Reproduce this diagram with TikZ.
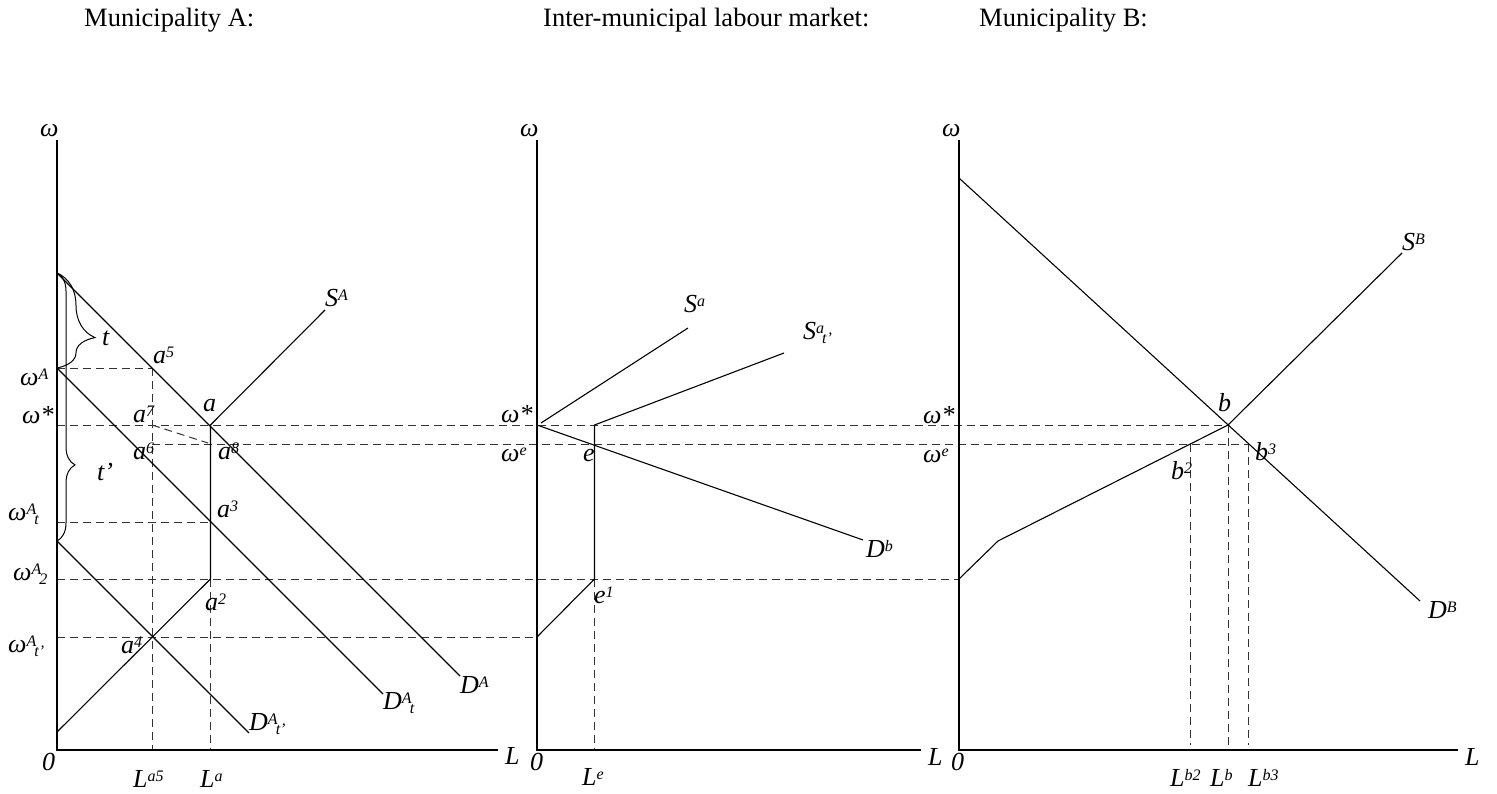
\documentclass[tikz,border=0pt]{standalone}
\usepackage{fontspec}
\setmainfont{Liberation Serif}
\usetikzlibrary{decorations.pathreplacing}
\newcommand\SP[1]{\raisebox{6pt}{\fontsize{16}{18}\selectfont #1}}
\newcommand\SB[1]{\raisebox{-4pt}{\fontsize{16}{18}\selectfont #1}}
\begin{document}
\begin{tikzpicture}[x=1pt,y=-1pt,
  axisline/.style={line width=1.8pt},
  crv/.style={line width=1.1pt},
  dsh/.style={line width=1pt, dash pattern=on 8pt off 5pt, black!80},
  lab/.style={inner sep=0pt, anchor=base west, font=\fontsize{26}{30}\selectfont\itshape},
  ttl/.style={inner sep=0pt, anchor=base west, font=\fontsize{26.5}{30}\selectfont},
  brc/.style={line width=1pt, decorate}]
\useasboundingbox (0,0) rectangle (1497,794);
% ---------- coordinates: panel A
\coordinate (Atop) at (57,140);
\coordinate (Ao) at (57,750);
\coordinate (Aend) at (498,750);
\coordinate (DA0) at (57,273);
\coordinate (DA1) at (460,676);
\coordinate (wA) at (57,368);
\coordinate (DAt1) at (383,694);
\coordinate (DAtp0) at (57,541);
\coordinate (DAtp1) at (249,733);
\coordinate (SA0) at (57,732);
\coordinate (a2) at (210.5,579);
\coordinate (a) at (210.5,425);
\coordinate (SA1) at (325,310);
\coordinate (a5) at (152,368);
\coordinate (a7) at (152,425);
\coordinate (a6) at (152,444);
\coordinate (a3) at (210.5,522);
\coordinate (a4) at (152,637);
\coordinate (a8q) at (208,443);
\coordinate (wAt) at (57,522);
\coordinate (wA2) at (57,579);
\coordinate (wAtp) at (57,637);
\coordinate (ws) at (57,425);
\coordinate (La5) at (152,750);
\coordinate (La) at (210.5,750);
% ---------- middle panel
\coordinate (Mtop) at (537,140);
\coordinate (Mo) at (537,750);
\coordinate (Mend) at (921,750);
\coordinate (Ms) at (537,425);
\coordinate (Sa0) at (541,423);
\coordinate (Sa1) at (688,328);
\coordinate (Mtp) at (537,637);
\coordinate (e1) at (594.5,579);
\coordinate (et) at (594.5,425);
\coordinate (Sat1) at (784,353);
\coordinate (Db1) at (863,540);
\coordinate (Le) at (594.5,750);
% ---------- panel B
\coordinate (Btop) at (959,140);
\coordinate (Bo) at (959,750);
\coordinate (Bend) at (1458,750);
\coordinate (DB0) at (959,178);
\coordinate (DB1) at (1420,601);
\coordinate (SB0) at (959,579);
\coordinate (SBk) at (998,541);
\coordinate (b) at (1228,425);
\coordinate (SB1) at (1402,253);
\coordinate (b2) at (1190,444);
\coordinate (b3) at (1248,444);
\coordinate (Lb2) at (1190,745);
\coordinate (Lb) at (1228,750);
\coordinate (Lb3) at (1248,745);
% ---------- dashed guides
\draw[dsh] (wA) -- (a5);
\draw[dsh] (ws) -- (b);
\draw[dsh] (a6) -- (b3);
\draw[dsh] (wAt) -- (a3);
\draw[dsh] (wA2) -- (SB0);
\draw[dsh] (wAtp) -- (Mtp);
\draw[dsh] (a5) -- (La5);
\draw[dsh] (a2) -- (La);
\draw[dsh] (a7) -- (a8q);
\draw[dsh] (e1) -- (Le);
\draw[dsh] (b2) -- (Lb2);
\draw[dsh] (b) -- (Lb);
\draw[dsh] (b3) -- (Lb3);
% ---------- axes
\draw[axisline] (Atop) -- (Ao) -- (Aend);
\draw[axisline] (Mtop) -- (Mo) -- (Mend);
\draw[axisline] (Btop) -- (Bo) -- (Bend);
% ---------- curves
\draw[crv] (DA0) -- (DA1);
\draw[crv] (wA) -- (DAt1);
\draw[crv] (DAtp0) -- (DAtp1);
\draw[crv] (SA0) -- (a2) -- (a) -- (SA1);
\draw[crv] (Sa0) -- (Sa1);
\draw[crv] (Mtp) -- (e1) -- (et) -- (Sat1);
\draw[crv] (Ms) -- (Db1);
\draw[crv] (DB0) -- (DB1);
\draw[crv] (SB0) -- (SBk) -- (b) -- (SB1);
% ---------- braces
\draw[brc, decoration={brace, amplitude=38pt, aspect=0.68}] (DA0) -- (wA);
\draw[brc, decoration={brace, amplitude=18pt, aspect=0.716}] (DA0) -- (DAtp0);
% ---------- titles
\node[ttl] (tA) at (84,27) {Municipality A:};
\node[ttl] (tM) at (543,27) {Inter-municipal labour market:};
\node[ttl] (tB) at (979,27) {Municipality B:};
% ---------- panel A labels
\node[lab] (wAtopl) at (40,137) {ω};
\node[lab] (zA) at (42,770) {0};
\node[lab] (LAl) at (505,764) {L};
\node[lab] (La5l) at (133,787) {L\SP{a5}};
\node[lab] (Lal) at (200,787) {L\SP{a}};
\node[lab] (lwA) at (20,385) {ω\SP{A}};
\node[lab] (lws) at (22,423) {ω*};
\node[lab] (lwAt) at (8,520) {ω\SP{A}\kern-2pt\SB{t}};
\node[lab] (lwA2) at (13,580) {ω\SP{A}\kern-2pt\SB{2}};
\node[lab] (lwAtp) at (8,652) {ω\SP{A}\kern-2pt\SB{t’}};
\node[lab] (lt) at (102,345) {t};
\node[lab] (ltp) at (97,480) {t’};
\node[lab] (la5) at (153,363) {a\SP{5}};
\node[lab] (la) at (203,411) {a};
\node[lab] (la7) at (133,422) {a\SP{7}};
\node[lab] (la6) at (133,459) {a\SP{6}};
\node[lab] (la8) at (218,459) {a\SP{8}};
\node[lab] (la3) at (217,517) {a\SP{3}};
\node[lab] (la2) at (205,610) {a\SP{2}};
\node[lab] (la4) at (121,653) {a\SP{4}};
\node[lab] (lSA) at (325,307) {S\SP{A}};
\node[lab] (lDA) at (460,693) {D\SP{A}};
\node[lab] (lDAt) at (383,709) {D\SP{A}\kern-2pt\SB{t}};
\node[lab] (lDAtp) at (249,730) {D\SP{A}\kern-2pt\SB{t’}};
% ---------- middle labels
\node[lab] (wMtopl) at (520,137) {ω};
\node[lab] (zM) at (530,770) {0};
\node[lab] (LMl) at (928,765) {L};
\node[lab] (Lel) at (582,785) {L\SP{e}};
\node[lab] (lwsM) at (501,422) {ω*};
\node[lab] (lweM) at (501,461) {ω\SP{e}};
\node[lab] (le) at (583,461) {e};
\node[lab] (le1) at (594,603) {e\SP{1}};
\node[lab] (lSa) at (684,313) {S\SP{a}};
\node[lab] (lSat) at (803,340) {S\SP{a}\kern-2pt\SB{t’}};
\node[lab] (lDb) at (866,557) {D\SP{b}};
% ---------- panel B labels
\node[lab] (wBtopl) at (942,137) {ω};
\node[lab] (zB) at (951,770) {0};
\node[lab] (LBl) at (1465,765) {L};
\node[lab] (Lb2l) at (1170,786) {L\SP{b2}};
\node[lab] (Lbl) at (1210,786) {L\SP{b}};
\node[lab] (Lb3l) at (1248,786) {L\SP{b3}};
\node[lab] (lwsB) at (923,423) {ω*};
\node[lab] (lweB) at (923,462) {ω\SP{e}};
\node[lab] (lb) at (1218,411) {b};
\node[lab] (lb2) at (1171,479) {b\SP{2}};
\node[lab] (lb3) at (1255,460) {b\SP{3}};
\node[lab] (lSB) at (1402,251) {S\SP{B}};
\node[lab] (lDB) at (1428,618) {D\SP{B}};
\end{tikzpicture}
\end{document}
